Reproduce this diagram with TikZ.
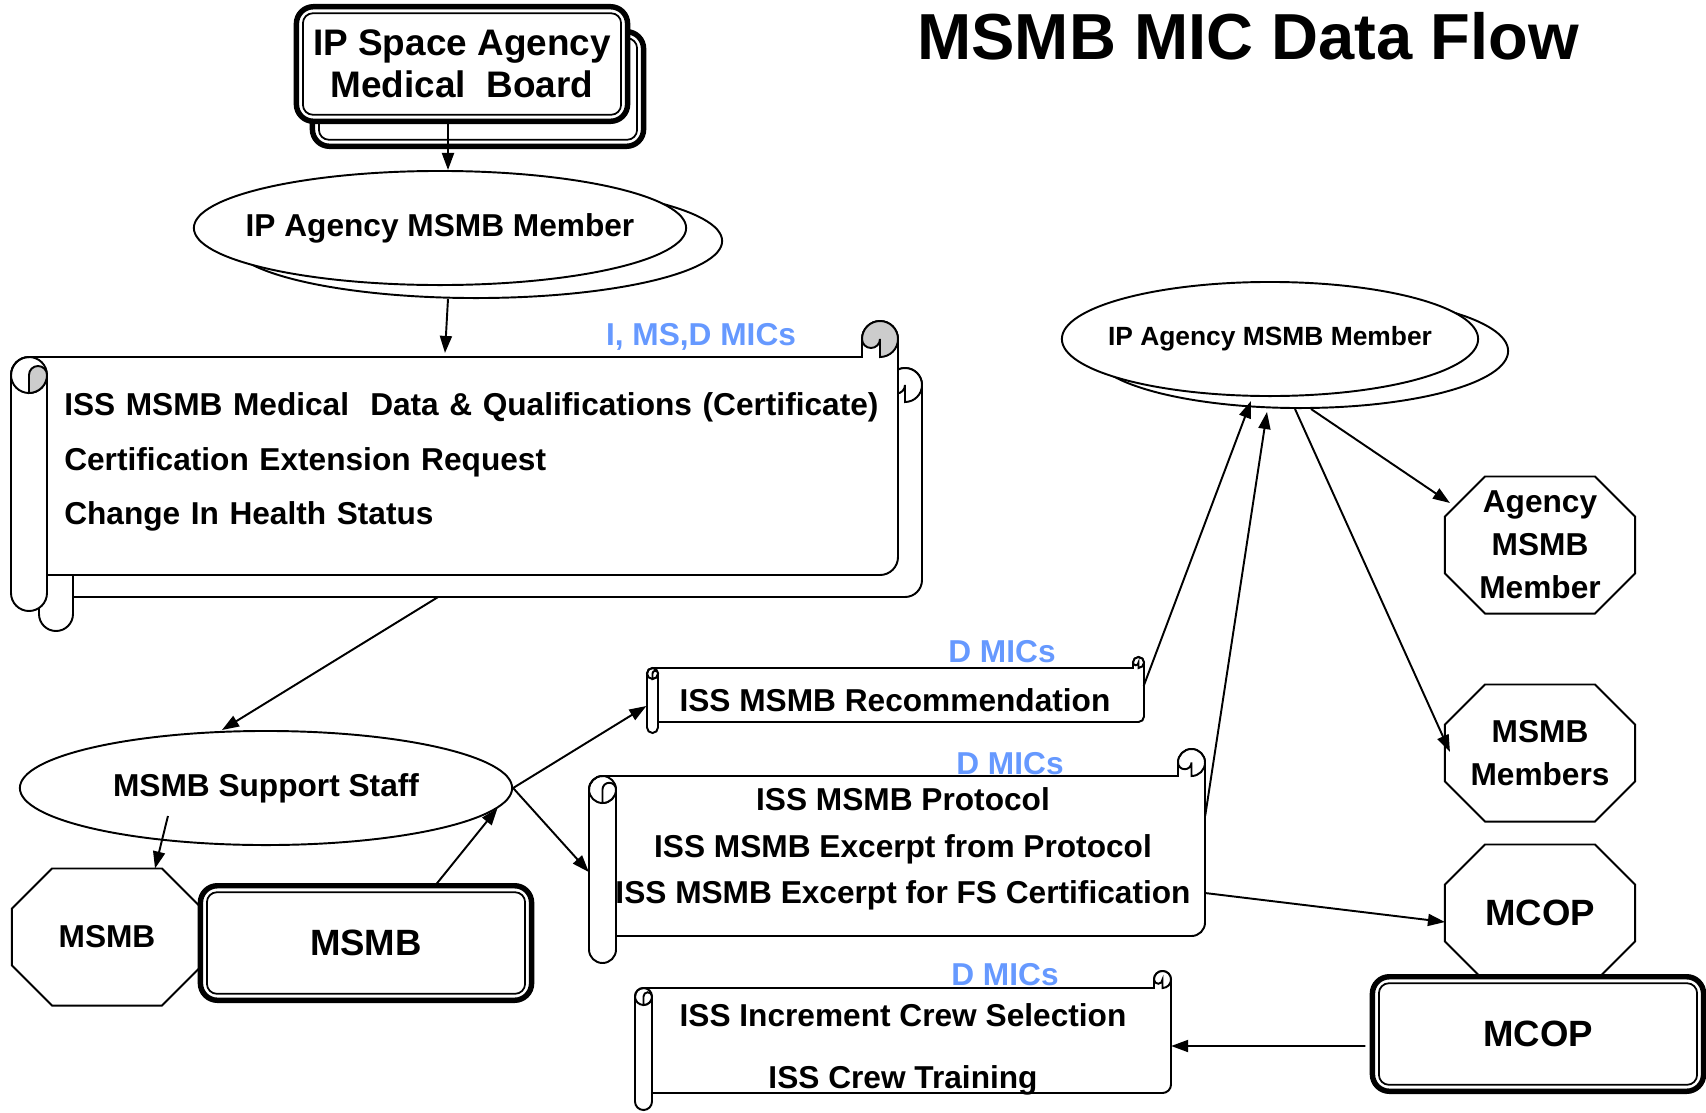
\documentclass[tikz,border=0pt]{standalone}
\usepackage{fontspec}
\setmainfont{Liberation Sans}
\usepackage{tikz}
\usetikzlibrary{shapes.geometric, arrows.meta}
\definecolor{micblue}{HTML}{6699FF}
\definecolor{curlgray}{gray}{0.8}

% scroll: left, right, top, bottom, roll size, curl fill
\newcommand{\scrollshape}[6]{%
  \draw[fill=white] ({#1-#5/2},#3) -- ({#2-#5},#3) -- ({#2-#5},{#3-#5/2})
    arc[start angle=180, end angle=360, radius=#5/2] -- (#2,{#4-#5/2})
    arc[start angle=0, end angle=90, radius=#5/2] -- (#1,#4) -- (#1,{#4+#5/2})
    arc[start angle=0, end angle=180, radius=#5/2] -- ({#1-#5},{#3+#5/2})
    arc[start angle=180, end angle=270, radius=#5/2] -- cycle;
  \draw ({#1-#5/2},{#3+#5/2}) circle[radius=#5/2];
  \draw (#1,{#3+#5/2}) -- (#1,{#4+#5/2});
  \draw[fill=#6] (#1,{#3+#5/2}) arc[start angle=0, end angle=-180, radius=#5/4]
    -- ({#1-#5/2},{#3+#5}) arc[start angle=90, end angle=0, radius=#5/2] -- cycle;
  \draw[fill=#6] ({#2-#5/2},#3) -- ({#2-#5/2},{#3-#5/2})
    arc[start angle=0, end angle=180, radius=#5/4]
    arc[start angle=180, end angle=450, radius=#5/2] -- cycle;}
% thin inner line of a double box
\newcommand{\boxline}[1]{%
  \draw[line width=0.5pt, rounded corners=0.1cm]
    ([shift={(0.065cm,-0.065cm)}]#1.north west) rectangle ([shift={(-0.065cm,0.065cm)}]#1.south east);}
% octagon round a node
\newcommand{\octshape}[1]{%
  \draw ([xshift=0.4cm]#1.north west) -- ([xshift=-0.4cm]#1.north east)
    -- ([yshift=-0.4cm]#1.north east) -- ([yshift=0.4cm]#1.south east)
    -- ([xshift=-0.4cm]#1.south east) -- ([xshift=0.4cm]#1.south west)
    -- ([yshift=0.4cm]#1.south west) -- ([yshift=-0.4cm]#1.north west) -- cycle;}

\begin{document}
\begin{tikzpicture}[x=0.01cm, y=-0.01cm, line width=0.55pt,
  font=\bfseries\fontsize{9}{11}\selectfont,
  member/.style={ellipse, draw, fill=white, inner sep=0pt, minimum width=4.92cm, minimum height=1.14cm},
  dblbox/.style={draw, fill=white, line width=1.55pt, rounded corners=0.17cm, outer sep=0pt,
    inner sep=0pt, minimum width=3.31cm, minimum height=1.145cm, align=center,
    font=\bfseries\fontsize{10.4}{12}\selectfont},
  octbox/.style={inner sep=0pt, outer sep=0pt, minimum width=1.9cm, minimum height=1.37cm,
    align=center, font=\bfseries\fontsize{9}{12.2}\selectfont},
  doc/.style={inner sep=0pt, outer sep=0pt, align=center},
  mics/.style={text=micblue},
  flow/.style={-{Triangle[length=0.17cm, width=0.12cm]}}]
\useasboundingbox (0,0) rectangle (1706,1112);

  % Define boards
  \node[dblbox] (boardb) at (478,89) {};
  \boxline{boardb}
  \node[dblbox, font=\bfseries\fontsize{10.5}{11.9}\selectfont] (board) at (462,64)
    {IP Space Agency\\Medical\ \ Board};
  \boxline{board}

  % Define members
  \node[member] (ipmemberb) at (476,241) {};
  \node[member] (ipmember) at (440,228) {\makebox[0pt]{IP Agency MSMB Member}};
  \node[member, minimum width=4.16cm] (agencyb) at (1300,351) {};
  \node[member, minimum width=4.16cm, font=\bfseries\fontsize{7.5}{9}\selectfont] (agency)
    at (1270,339) {\makebox[0pt]{IP Agency MSMB Member}};
  \node[member] (support) at (266,788) {\makebox[0pt]{MSMB Support Staff}};

  % Define scrolls
  \scrollshape{73}{922}{402}{597}{34}{white}
  \scrollshape{47}{898}{357}{575}{36}{curlgray}
  \scrollshape{658}{1144}{668}{722}{11}{white}
  \scrollshape{616}{1205}{776}{936}{27}{white}
  \scrollshape{652}{1171}{988}{1093}{17}{white}
  \node[doc, align=left, text width=8.15cm, inner xsep=0.18cm, minimum height=2.18cm,
    font=\bfseries\fontsize{9}{15.6}\selectfont] (cert) at (472,462)
    {ISS MSMB Medical\ \ Data \& Qualifications (Certificate)\\Certification Extension Request\\Change In Health Status};
  \node[doc, minimum width=4.97cm, minimum height=0.54cm] (rec) at (895,700) {ISS MSMB Recommendation};
  \node[doc, minimum width=6.04cm, minimum height=1.6cm, font=\bfseries\fontsize{9}{13.2}\selectfont]
    (proto) at (903,849)
    {ISS MSMB Protocol\\ISS MSMB Excerpt from Protocol\\ISS MSMB Excerpt for FS Certification};
  \node[doc, minimum width=5.36cm, minimum height=1.05cm, font=\bfseries\fontsize{9}{17.6}\selectfont]
    (crew) at (903,1049) {ISS Increment Crew Selection\\ISS Crew Training};

  % Define labels
  \node[mics] (micsa) at (701,337) {I, MS,D MICs};
  \node[mics] (micsb) at (1002,652) {D MICs};
  \node[mics] (micsc) at (1010,764) {D MICs};
  \node[mics] (micsd) at (1005,975) {D MICs};
  \node[font=\bfseries\fontsize{18.5}{22}\selectfont] (title) at (1248,36) {MSMB MIC Data Flow};

  % Define octagons and boxes
  \node[octbox] (agmember) at (1540,545) {Agency\\MSMB\\Member};
  \octshape{agmember}
  \node[octbox] (members) at (1540,753) {MSMB\\Members};
  \octshape{members}
  \node[octbox, font=\bfseries\fontsize{10.4}{12}\selectfont] (mcopoct) at (1540,913) {MCOP};
  \octshape{mcopoct}
  \node[octbox] (msmboct) at (107,937) {MSMB};
  \octshape{msmboct}
  \node[dblbox] (msmbbox) at (366,943) {MSMB};
  \boxline{msmbbox}
  \node[dblbox] (mcopbox) at (1538,1034) {MCOP};
  \boxline{mcopbox}

  % Define edges
  \draw[flow] ([xshift=-0.14cm]board.south) -- ([xshift=0.08cm]ipmember.north);
  \draw[flow] ([xshift=-0.28cm]ipmemberb.south) -- ([xshift=-0.27cm]cert.north);
  \draw[flow] ([shift={(-0.34cm,-0.26cm)}]cert.south) -- ([xshift=-0.44cm]support.north);
  \draw[flow] ([shift={(-0.98cm,-0.28cm)}]support.center) -- ([xshift=0.48cm]msmboct.north);
  \draw[flow] ([xshift=0.69cm]msmbbox.north) -- (support.-5);
  \draw[flow] (support.east) -- ([yshift=-0.06cm]rec.west);
  \draw[flow] (support.east) -- ([shift={(-0.12cm,-0.23cm)}]proto.west);
  \draw[flow] ([yshift=0.14cm]rec.east) -- ([shift={(-0.49cm,0.08cm)}]agencyb.south);
  \draw[flow] ([yshift=0.33cm]proto.east) -- ([shift={(-0.33cm,-0.03cm)}]agencyb.south);
  \draw[flow] ([xshift=-0.05cm]agencyb.south) -- ([shift={(0.05cm,0.01cm)}]members.west);
  \draw[flow] ([xshift=0.11cm]agencyb.south) -- ([shift={(0.05cm,0.42cm)}]agmember.west);
  \draw[flow] ([yshift=-0.44cm]proto.east) -- ([yshift=-0.09cm]mcopoct.west);
  \draw[flow] ([shift={(-0.07cm,-0.12cm)}]mcopbox.west) -- ([yshift=0.03cm]crew.east);
\end{tikzpicture}
\end{document}
